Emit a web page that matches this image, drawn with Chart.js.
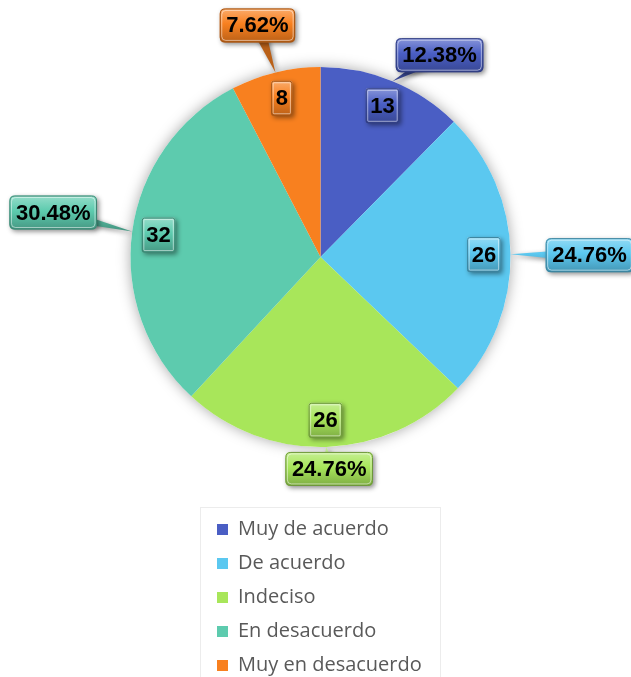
<!DOCTYPE html>
<html lang="es">
<head>
  <meta charset="UTF-8">
  <title>Distribución de respuestas</title>
  <style>
    html, body { margin: 0; padding: 0; background: #fff; }
    #chart { display: block; }
  </style>
</head>
<body>

<canvas id="chart" width="631" height="677"></canvas>

<script src="https://cdn.jsdelivr.net/npm/chart.js"></script>
<script>
  // datos
  const labels = ['Muy de acuerdo', 'De acuerdo', 'Indeciso', 'En desacuerdo', 'Muy en desacuerdo'];
  const counts = [13, 26, 26, 32, 8];
  const percents = ['12.38%', '24.76%', '24.76%', '30.48%', '7.62%'];
  const colors = ['#4A5EC4', '#5BC8F0', '#A8E65A', '#5DCBAE', '#F8801F'];

  // desplazamiento de cada globo de porcentaje respecto al borde del sector
  const calloutShift = [[47, -26], [79, 1], [3, 22], [-79, -19], [-18, -47]];

  function shade(hex, amt) {
    let r = parseInt(hex.slice(1, 3), 16), g = parseInt(hex.slice(3, 5), 16), b = parseInt(hex.slice(5, 7), 16);
    if (amt > 0) { r += (255 - r) * amt; g += (255 - g) * amt; b += (255 - b) * amt; }
    else { r *= 1 + amt; g *= 1 + amt; b *= 1 + amt; }
    return 'rgb(' + Math.round(r) + ',' + Math.round(g) + ',' + Math.round(b) + ')';
  }

  function roundRect(ctx, x, y, w, h, r) {
    ctx.beginPath();
    ctx.moveTo(x + r, y);
    ctx.lineTo(x + w - r, y);
    ctx.quadraticCurveTo(x + w, y, x + w, y + r);
    ctx.lineTo(x + w, y + h - r);
    ctx.quadraticCurveTo(x + w, y + h, x + w - r, y + h);
    ctx.lineTo(x + r, y + h);
    ctx.quadraticCurveTo(x, y + h, x, y + h - r);
    ctx.lineTo(x, y + r);
    ctx.quadraticCurveTo(x, y, x + r, y);
    ctx.closePath();
  }

  // caja con relieve, opcionalmente con puntero hacia tip
  function bevelBox(ctx, cx, cy, w, h, color, text, tip) {
    const x = cx - w / 2, y = cy - h / 2;
    const grad = ctx.createLinearGradient(0, y, 0, y + h);
    grad.addColorStop(0, shade(color, 0.35));
    grad.addColorStop(0.45, color);
    grad.addColorStop(1, shade(color, -0.25));

    ctx.save();
    ctx.shadowColor = 'rgba(0,0,0,0.45)';
    ctx.shadowBlur = 5;
    ctx.shadowOffsetX = 2;
    ctx.shadowOffsetY = 2;
    ctx.fillStyle = grad;
    if (tip) {
      const dx = tip[0] - cx, dy = tip[1] - cy;
      const len = Math.hypot(dx, dy);
      const px = -dy / len * 7, py = dx / len * 7;
      ctx.beginPath();
      ctx.moveTo(cx + px, cy + py);
      ctx.lineTo(tip[0], tip[1]);
      ctx.lineTo(cx - px, cy - py);
      ctx.closePath();
      ctx.fill();
    }
    roundRect(ctx, x, y, w, h, tip ? 5 : 2);
    ctx.fill();
    ctx.restore();

    ctx.save();
    ctx.strokeStyle = shade(color, -0.35);
    ctx.lineWidth = 1;
    roundRect(ctx, x + 0.5, y + 0.5, w - 1, h - 1, tip ? 5 : 2);
    ctx.stroke();
    ctx.strokeStyle = 'rgba(255,255,255,0.5)';
    roundRect(ctx, x + 2, y + 2, w - 4, h - 4, tip ? 4 : 1);
    ctx.stroke();
    ctx.fillStyle = '#000';
    ctx.textAlign = 'center';
    ctx.textBaseline = 'middle';
    ctx.fillText(text, cx, cy + 1);
    ctx.restore();
  }

  const pieShadow = {
    id: 'pieShadow',
    beforeDatasetsDraw(chart) {
      const el = chart.getDatasetMeta(0).data[0];
      if (!el) return;
      const ctx = chart.ctx;
      ctx.save();
      ctx.shadowColor = 'rgba(0,0,0,0.35)';
      ctx.shadowBlur = 14;
      ctx.fillStyle = '#fff';
      ctx.beginPath();
      ctx.arc(el.x, el.y, el.outerRadius, 0, Math.PI * 2);
      ctx.fill();
      ctx.restore();
    }
  };

  const boxLabels = {
    id: 'boxLabels',
    afterDatasetsDraw(chart) {
      const ctx = chart.ctx;
      ctx.font = 'bold 22px "Liberation Sans", Arial, sans-serif';
      chart.getDatasetMeta(0).data.forEach((arc, i) => {
        const p = arc.getProps(['x', 'y', 'startAngle', 'endAngle', 'outerRadius'], true);
        const mid = (p.startAngle + p.endAngle) / 2;
        const cos = Math.cos(mid), sin = Math.sin(mid);
        // valor dentro del sector
        const vx = p.x + cos * p.outerRadius * 0.86, vy = p.y + sin * p.outerRadius * 0.86;
        const vt = String(counts[i]);
        bevelBox(ctx, vx, vy, ctx.measureText(vt).width + 9, 35, colors[i], vt, null);
        // globo con porcentaje
        const ex = p.x + cos * p.outerRadius, ey = p.y + sin * p.outerRadius;
        const s = calloutShift[i];
        const pt = percents[i];
        bevelBox(ctx, ex + s[0], ey + s[1], ctx.measureText(pt).width + 13, 34, colors[i], pt, [ex, ey]);
      });
    }
  };

  const listLegend = {
    id: 'listLegend',
    afterDraw(chart) {
      const ctx = chart.ctx;
      ctx.save();
      ctx.strokeStyle = '#ececec';
      ctx.lineWidth = 1;
      ctx.strokeRect(200.5, 507.5, 240, 180);
      ctx.font = '20px "Open Sans", sans-serif';
      ctx.textBaseline = 'middle';
      ctx.textAlign = 'left';
      labels.forEach((lab, i) => {
        const y = 529 + i * 34;
        ctx.fillStyle = colors[i];
        ctx.fillRect(217, y - 5, 11, 11);
        ctx.fillStyle = '#595959';
        ctx.fillText(lab, 238, y);
      });
      ctx.restore();
    }
  };

  new Chart(document.getElementById('chart'), {
    type: 'pie',
    data: {
      labels: labels,
      datasets: [{
        data: counts,
        backgroundColor: colors,
        borderWidth: 0
      }]
    },
    options: {
      responsive: false,
      animation: false,
      layout: { padding: { top: 67, bottom: 230, left: 10, right: 0 } },
      plugins: {
        legend: { display: false },
        tooltip: { enabled: false }
      }
    },
    plugins: [pieShadow, boxLabels, listLegend]
  });
</script>

</body>
</html>
